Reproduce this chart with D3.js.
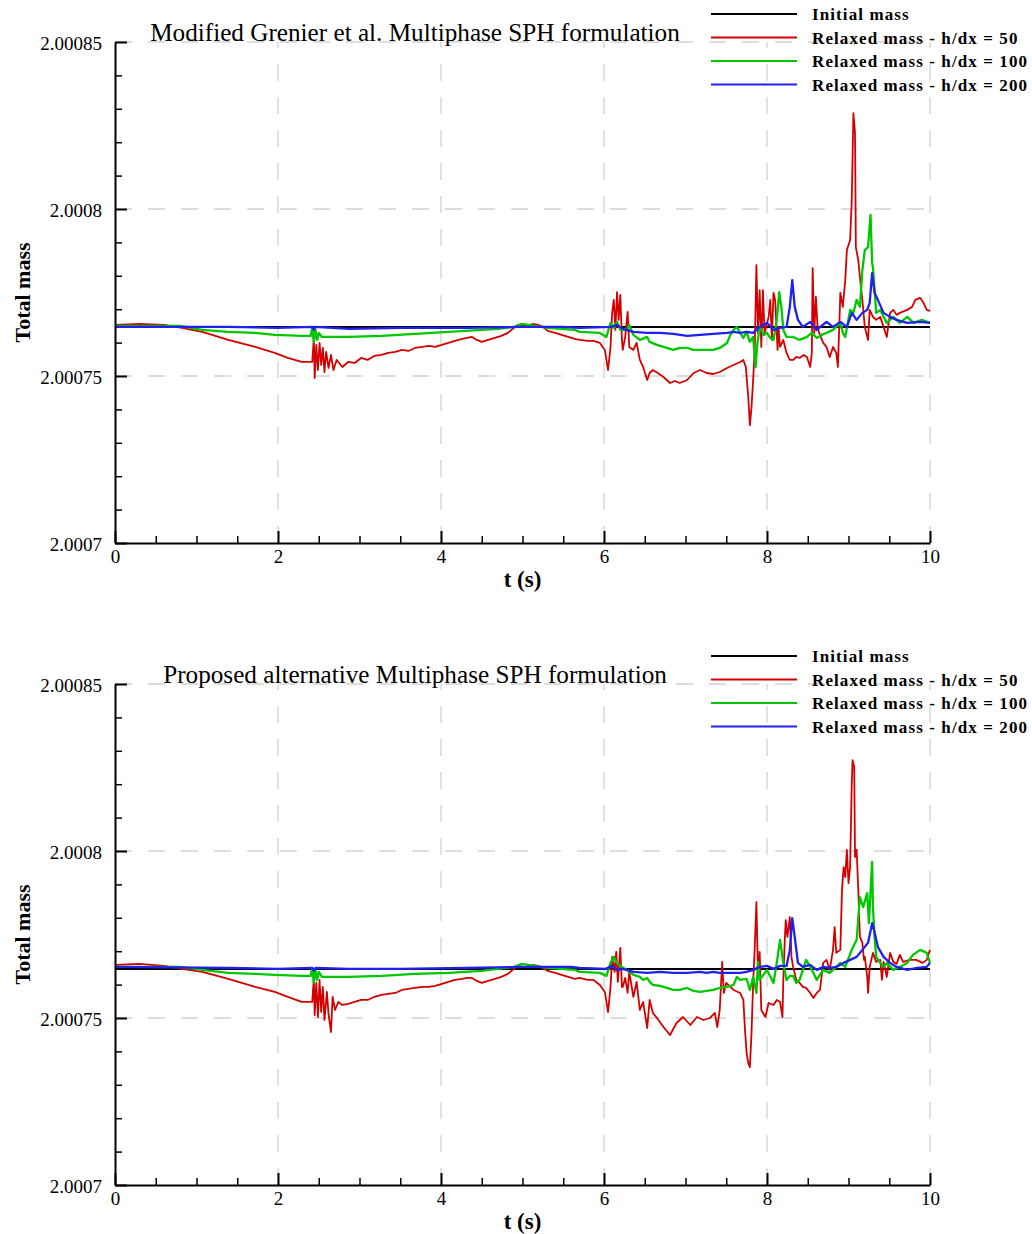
<!DOCTYPE html>
<html>
<head>
<meta charset="utf-8">
<script src="https://cdn.jsdelivr.net/npm/d3@7"></script>
<style>
  body { margin: 0; background: #ffffff; }
  svg { display: block; }
</style>
</head>
<body>
<svg id="chart" width="1032" height="1234"></svg>
<script>
// ---- Data --------------------------------------------------------------
const initialMass = 2.0007647;

const timeTicks = [0, 2, 4, 6, 8, 10];
const timeTickLabels = ["0", "2", "4", "6", "8", "10"];
const massTicks = [2.0007, 2.00075, 2.0008, 2.00085];
const massTickLabels = ["2.0007", "2.00075", "2.0008", "2.00085"];

const legendLabels = [
  "Initial mass",
  "Relaxed mass - h/dx = 50",
  "Relaxed mass - h/dx = 100",
  "Relaxed mass - h/dx = 200"
];
const panelTitles = [
  "Modified Grenier et al. Multiphase SPH formulation",
  "Proposed alternative Multiphase SPH formulation"
];

// [t (s), total mass] — modified Grenier formulation
const grenier50 = [
  [0, 2.0007653], [0.3, 2.0007656], [0.6, 2.0007653], [0.82, 2.0007644], [1.07, 2.0007632],
  [1.39, 2.0007608], [1.72, 2.0007587], [1.96, 2.0007569], [2.12, 2.0007554], [2.29, 2.0007542],
  [2.42, 2.0007542], [2.44, 2.0007614], [2.45, 2.0007494], [2.47, 2.0007593], [2.49, 2.0007518],
  [2.51, 2.0007599], [2.53, 2.0007533], [2.55, 2.0007584], [2.57, 2.0007512], [2.59, 2.0007572],
  [2.62, 2.0007524], [2.65, 2.0007563], [2.68, 2.0007518], [2.72, 2.0007548], [2.79, 2.0007527],
  [2.86, 2.0007542], [2.94, 2.0007539], [3.02, 2.0007554], [3.10, 2.0007548], [3.18, 2.0007560],
  [3.27, 2.0007563], [3.35, 2.0007569], [3.44, 2.0007572], [3.52, 2.0007578], [3.60, 2.0007575],
  [3.68, 2.0007584], [3.77, 2.0007587], [3.85, 2.0007590], [3.93, 2.0007587], [4.01, 2.0007593],
  [4.09, 2.0007599], [4.17, 2.0007605], [4.26, 2.0007611], [4.32, 2.0007614], [4.38, 2.0007617],
  [4.44, 2.0007608], [4.50, 2.0007602], [4.58, 2.0007608], [4.66, 2.0007614], [4.74, 2.0007620],
  [4.82, 2.0007629], [4.88, 2.0007641], [4.94, 2.0007653], [5.00, 2.0007650], [5.07, 2.0007650],
  [5.13, 2.0007656], [5.19, 2.0007653], [5.25, 2.0007647], [5.31, 2.0007635], [5.40, 2.0007629],
  [5.48, 2.0007623], [5.56, 2.0007617], [5.64, 2.0007611], [5.70, 2.0007608], [5.80, 2.0007605],
  [5.87, 2.0007605], [5.95, 2.0007599], [6.01, 2.0007578], [6.05, 2.0007518], [6.08, 2.0007587],
  [6.10, 2.0007689], [6.12, 2.0007728], [6.14, 2.0007638], [6.16, 2.0007751], [6.18, 2.0007668],
  [6.20, 2.0007743], [6.22, 2.0007608], [6.23, 2.0007578], [6.26, 2.0007617], [6.29, 2.0007692],
  [6.31, 2.0007587], [6.36, 2.0007578], [6.40, 2.0007599], [6.44, 2.0007548], [6.48, 2.0007527],
  [6.53, 2.0007488], [6.56, 2.0007509], [6.60, 2.0007518], [6.66, 2.0007509], [6.73, 2.0007497],
  [6.81, 2.0007479], [6.87, 2.0007485], [6.93, 2.0007479], [7.02, 2.0007488], [7.10, 2.0007509],
  [7.18, 2.0007518], [7.26, 2.0007509], [7.34, 2.0007506], [7.42, 2.0007512], [7.51, 2.0007524],
  [7.59, 2.0007533], [7.67, 2.0007542], [7.71, 2.0007548], [7.74, 2.0007527], [7.77, 2.0007437],
  [7.79, 2.0007353], [7.81, 2.0007407], [7.83, 2.0007488], [7.85, 2.0007587], [7.87, 2.0007832],
  [7.89, 2.0007629], [7.91, 2.0007757], [7.93, 2.0007587], [7.95, 2.0007757], [7.97, 2.0007629],
  [8.02, 2.0007677], [8.04, 2.0007728], [8.06, 2.0007608], [8.08, 2.0007749], [8.10, 2.0007728],
  [8.13, 2.0007578], [8.14, 2.0007647], [8.16, 2.0007587], [8.20, 2.0007608], [8.24, 2.0007569],
  [8.28, 2.0007548], [8.32, 2.0007548], [8.36, 2.0007557], [8.40, 2.0007554], [8.45, 2.0007563],
  [8.49, 2.0007557], [8.53, 2.0007527], [8.55, 2.0007569], [8.56, 2.0007823], [8.58, 2.0007629],
  [8.60, 2.0007737], [8.62, 2.0007647], [8.64, 2.0007629], [8.69, 2.0007599], [8.73, 2.0007587],
  [8.77, 2.0007557], [8.81, 2.0007587], [8.85, 2.0007569], [8.87, 2.0007527], [8.90, 2.0007749],
  [8.93, 2.0007707], [8.96, 2.0007787], [8.98, 2.0007877], [9.02, 2.0007907], [9.04, 2.0008027],
  [9.06, 2.0008287], [9.08, 2.0008228], [9.09, 2.0007886], [9.12, 2.0007847], [9.14, 2.0007796],
  [9.17, 2.0007728], [9.20, 2.0007647], [9.24, 2.0007608], [9.26, 2.0007698], [9.30, 2.0007677],
  [9.34, 2.0007668], [9.39, 2.0007677], [9.43, 2.0007647], [9.47, 2.0007617], [9.51, 2.0007689],
  [9.55, 2.0007698], [9.59, 2.0007683], [9.63, 2.0007689], [9.72, 2.0007698], [9.78, 2.0007707],
  [9.82, 2.0007728], [9.88, 2.0007734], [9.92, 2.0007719], [9.96, 2.0007698], [10.0, 2.0007695]
];

const grenier100 = [
  [0, 2.0007650], [0.8, 2.0007650], [1.07, 2.0007638], [1.39, 2.0007632], [1.72, 2.0007629],
  [1.96, 2.0007623], [2.29, 2.0007620], [2.40, 2.0007620], [2.42, 2.0007644], [2.44, 2.0007602],
  [2.46, 2.0007638], [2.48, 2.0007608], [2.50, 2.0007629], [2.54, 2.0007617], [2.87, 2.0007617],
  [3.27, 2.0007620], [3.68, 2.0007626], [4.09, 2.0007632], [4.50, 2.0007638], [4.70, 2.0007641],
  [4.90, 2.0007647], [4.99, 2.0007656], [5.07, 2.0007653], [5.15, 2.0007650], [5.31, 2.0007644],
  [5.64, 2.0007638], [5.70, 2.0007632], [5.95, 2.0007629], [6.03, 2.0007617], [6.08, 2.0007659],
  [6.12, 2.0007644], [6.16, 2.0007662], [6.20, 2.0007638], [6.28, 2.0007638], [6.31, 2.0007653],
  [6.36, 2.0007623], [6.44, 2.0007608], [6.53, 2.0007617], [6.56, 2.0007602], [6.65, 2.0007593],
  [6.73, 2.0007587], [6.85, 2.0007578], [6.93, 2.0007584], [7.02, 2.0007584], [7.10, 2.0007578],
  [7.18, 2.0007578], [7.34, 2.0007578], [7.42, 2.0007584], [7.51, 2.0007599], [7.55, 2.0007623],
  [7.59, 2.0007638], [7.63, 2.0007647], [7.67, 2.0007629], [7.71, 2.0007614], [7.75, 2.0007632],
  [7.79, 2.0007602], [7.83, 2.0007617], [7.86, 2.0007527], [7.88, 2.0007593], [7.91, 2.0007647],
  [7.96, 2.0007623], [8.00, 2.0007629], [8.04, 2.0007614], [8.08, 2.0007608], [8.12, 2.0007668],
  [8.15, 2.0007751], [8.18, 2.0007698], [8.20, 2.0007638], [8.24, 2.0007617], [8.32, 2.0007617],
  [8.40, 2.0007608], [8.49, 2.0007617], [8.55, 2.0007629], [8.61, 2.0007614], [8.67, 2.0007623],
  [8.73, 2.0007629], [8.81, 2.0007638], [8.90, 2.0007659], [8.93, 2.0007629], [8.96, 2.0007617],
  [9.02, 2.0007698], [9.06, 2.0007689], [9.10, 2.0007728], [9.14, 2.0007707], [9.17, 2.0007817],
  [9.20, 2.0007877], [9.24, 2.0007886], [9.27, 2.0007982], [9.29, 2.0007838], [9.30, 2.0007826],
  [9.34, 2.0007689], [9.39, 2.0007698], [9.43, 2.0007677], [9.47, 2.0007659], [9.55, 2.0007677],
  [9.63, 2.0007659], [9.72, 2.0007677], [9.80, 2.0007659], [9.90, 2.0007668], [10.0, 2.0007659]
];

const grenier200 = [
  [0, 2.0007647], [1.40, 2.0007647], [2.00, 2.0007644], [2.42, 2.0007647], [2.44, 2.0007638],
  [2.46, 2.0007647], [2.87, 2.0007641], [3.50, 2.0007644], [4.30, 2.0007644], [5.00, 2.0007647],
  [5.50, 2.0007647], [5.70, 2.0007644], [6.08, 2.0007647], [6.16, 2.0007653], [6.23, 2.0007641],
  [6.36, 2.0007632], [6.53, 2.0007629], [6.69, 2.0007629], [6.85, 2.0007626], [7.02, 2.0007620],
  [7.18, 2.0007623], [7.34, 2.0007626], [7.51, 2.0007629], [7.59, 2.0007632], [7.67, 2.0007629],
  [7.75, 2.0007632], [7.83, 2.0007629], [7.91, 2.0007647], [8.00, 2.0007659], [8.08, 2.0007638],
  [8.16, 2.0007644], [8.24, 2.0007647], [8.28, 2.0007707], [8.31, 2.0007787], [8.34, 2.0007707],
  [8.38, 2.0007668], [8.44, 2.0007647], [8.53, 2.0007662], [8.61, 2.0007638], [8.73, 2.0007662],
  [8.81, 2.0007647], [8.90, 2.0007662], [8.98, 2.0007647], [9.04, 2.0007689], [9.10, 2.0007668],
  [9.17, 2.0007689], [9.23, 2.0007698], [9.26, 2.0007719], [9.29, 2.0007808], [9.32, 2.0007749],
  [9.36, 2.0007728], [9.43, 2.0007689], [9.51, 2.0007677], [9.59, 2.0007668], [9.72, 2.0007659],
  [9.88, 2.0007662], [10.0, 2.0007659]
];

// [t (s), total mass] — proposed alternative formulation
const proposed50 = [
  [0, 2.0007659], [0.3, 2.0007662], [0.6, 2.0007656], [0.82, 2.0007647], [1.07, 2.0007638],
  [1.39, 2.0007617], [1.72, 2.0007593], [1.96, 2.0007578], [2.12, 2.0007563], [2.29, 2.0007548],
  [2.42, 2.0007548], [2.44, 2.0007620], [2.45, 2.0007509], [2.47, 2.0007605], [2.49, 2.0007503],
  [2.51, 2.0007614], [2.53, 2.0007518], [2.55, 2.0007593], [2.57, 2.0007494], [2.60, 2.0007578],
  [2.62, 2.0007512], [2.65, 2.0007458], [2.67, 2.0007563], [2.70, 2.0007524], [2.74, 2.0007548],
  [2.79, 2.0007539], [2.86, 2.0007542], [2.94, 2.0007548], [3.02, 2.0007554], [3.10, 2.0007554],
  [3.18, 2.0007563], [3.27, 2.0007569], [3.35, 2.0007572], [3.44, 2.0007575], [3.52, 2.0007584],
  [3.60, 2.0007587], [3.68, 2.0007590], [3.77, 2.0007593], [3.85, 2.0007593], [3.93, 2.0007596],
  [4.01, 2.0007602], [4.09, 2.0007608], [4.17, 2.0007614], [4.26, 2.0007617], [4.32, 2.0007620],
  [4.38, 2.0007620], [4.44, 2.0007611], [4.50, 2.0007605], [4.58, 2.0007611], [4.66, 2.0007617],
  [4.74, 2.0007623], [4.82, 2.0007632], [4.88, 2.0007644], [4.94, 2.0007656], [5.00, 2.0007653],
  [5.07, 2.0007653], [5.13, 2.0007659], [5.19, 2.0007656], [5.25, 2.0007650], [5.31, 2.0007641],
  [5.40, 2.0007635], [5.48, 2.0007629], [5.56, 2.0007623], [5.64, 2.0007617], [5.70, 2.0007620],
  [5.80, 2.0007614], [5.87, 2.0007614], [5.95, 2.0007599], [6.01, 2.0007578], [6.05, 2.0007518],
  [6.08, 2.0007593], [6.10, 2.0007683], [6.13, 2.0007638], [6.15, 2.0007698], [6.17, 2.0007608],
  [6.20, 2.0007710], [6.22, 2.0007593], [6.23, 2.0007593], [6.26, 2.0007620], [6.29, 2.0007575],
  [6.31, 2.0007638], [6.36, 2.0007563], [6.40, 2.0007608], [6.44, 2.0007524], [6.48, 2.0007548],
  [6.53, 2.0007470], [6.56, 2.0007554], [6.60, 2.0007515], [6.65, 2.0007500], [6.73, 2.0007473],
  [6.81, 2.0007449], [6.89, 2.0007485], [6.97, 2.0007503], [7.06, 2.0007479], [7.14, 2.0007503],
  [7.22, 2.0007494], [7.30, 2.0007500], [7.36, 2.0007515], [7.39, 2.0007473], [7.42, 2.0007524],
  [7.45, 2.0007668], [7.47, 2.0007575], [7.50, 2.0007605], [7.59, 2.0007584], [7.67, 2.0007575],
  [7.71, 2.0007554], [7.73, 2.0007464], [7.75, 2.0007395], [7.77, 2.0007365], [7.79, 2.0007353],
  [7.81, 2.0007455], [7.83, 2.0007605], [7.85, 2.0007713], [7.87, 2.0007847], [7.89, 2.0007623],
  [7.91, 2.0007698], [7.93, 2.0007524], [7.98, 2.0007503], [8.02, 2.0007545], [8.08, 2.0007539],
  [8.12, 2.0007554], [8.16, 2.0007548], [8.19, 2.0007503], [8.20, 2.0007614], [8.22, 2.0007743],
  [8.23, 2.0007793], [8.25, 2.0007743], [8.28, 2.0007802], [8.30, 2.0007683], [8.32, 2.0007653],
  [8.36, 2.0007614], [8.40, 2.0007605], [8.44, 2.0007593], [8.48, 2.0007590], [8.53, 2.0007575],
  [8.57, 2.0007560], [8.61, 2.0007575], [8.65, 2.0007584], [8.69, 2.0007665], [8.73, 2.0007674],
  [8.77, 2.0007644], [8.81, 2.0007704], [8.83, 2.0007772], [8.85, 2.0007695], [8.90, 2.0007704],
  [8.92, 2.0007883], [8.94, 2.0007952], [8.96, 2.0007922], [8.98, 2.0008003], [9.00, 2.0007904],
  [9.02, 2.0007952], [9.04, 2.0008204], [9.05, 2.0008272], [9.07, 2.0008252], [9.08, 2.0007982],
  [9.10, 2.0008003], [9.12, 2.0007883], [9.14, 2.0007743], [9.17, 2.0007725], [9.19, 2.0007674],
  [9.20, 2.0007683], [9.23, 2.0007623], [9.24, 2.0007575], [9.26, 2.0007653], [9.30, 2.0007695],
  [9.34, 2.0007668], [9.39, 2.0007674], [9.41, 2.0007614], [9.43, 2.0007668], [9.47, 2.0007623],
  [9.51, 2.0007695], [9.55, 2.0007668], [9.59, 2.0007662], [9.63, 2.0007689], [9.67, 2.0007668],
  [9.75, 2.0007674], [9.83, 2.0007674], [9.91, 2.0007665], [9.96, 2.0007674], [10.0, 2.0007704]
];

const proposed100 = [
  [0, 2.0007653], [0.8, 2.0007653], [1.07, 2.0007644], [1.39, 2.0007635], [1.72, 2.0007632],
  [1.96, 2.0007629], [2.29, 2.0007626], [2.40, 2.0007626], [2.42, 2.0007650], [2.44, 2.0007605],
  [2.46, 2.0007644], [2.48, 2.0007614], [2.50, 2.0007638], [2.54, 2.0007623], [2.87, 2.0007623],
  [3.27, 2.0007626], [3.68, 2.0007632], [4.09, 2.0007635], [4.50, 2.0007641], [4.90, 2.0007653],
  [4.99, 2.0007662], [5.07, 2.0007659], [5.15, 2.0007656], [5.31, 2.0007650], [5.64, 2.0007644],
  [5.70, 2.0007638], [5.95, 2.0007635], [6.03, 2.0007626], [6.08, 2.0007665], [6.12, 2.0007683],
  [6.16, 2.0007665], [6.20, 2.0007656], [6.28, 2.0007644], [6.36, 2.0007629], [6.44, 2.0007623],
  [6.48, 2.0007614], [6.53, 2.0007620], [6.56, 2.0007608], [6.60, 2.0007599], [6.69, 2.0007596],
  [6.77, 2.0007590], [6.85, 2.0007584], [6.93, 2.0007584], [7.02, 2.0007590], [7.10, 2.0007581],
  [7.18, 2.0007578], [7.26, 2.0007581], [7.34, 2.0007584], [7.42, 2.0007590], [7.51, 2.0007593],
  [7.59, 2.0007599], [7.63, 2.0007623], [7.67, 2.0007614], [7.75, 2.0007617], [7.79, 2.0007584],
  [7.83, 2.0007623], [7.87, 2.0007575], [7.89, 2.0007668], [7.91, 2.0007614], [8.00, 2.0007644],
  [8.08, 2.0007605], [8.12, 2.0007665], [8.16, 2.0007734], [8.20, 2.0007665], [8.24, 2.0007614],
  [8.28, 2.0007626], [8.32, 2.0007626], [8.36, 2.0007605], [8.40, 2.0007614], [8.44, 2.0007644],
  [8.48, 2.0007674], [8.53, 2.0007653], [8.57, 2.0007635], [8.61, 2.0007614], [8.69, 2.0007644],
  [8.77, 2.0007635], [8.85, 2.0007653], [8.90, 2.0007665], [8.96, 2.0007653], [9.04, 2.0007704],
  [9.10, 2.0007734], [9.14, 2.0007862], [9.18, 2.0007832], [9.23, 2.0007874], [9.25, 2.0007784],
  [9.29, 2.0007967], [9.30, 2.0007832], [9.32, 2.0007743], [9.34, 2.0007683], [9.39, 2.0007665],
  [9.43, 2.0007653], [9.47, 2.0007665], [9.55, 2.0007644], [9.63, 2.0007653], [9.72, 2.0007665],
  [9.79, 2.0007689], [9.88, 2.0007704], [9.96, 2.0007695], [10.0, 2.0007665]
];

const proposed200 = [
  [0, 2.0007653], [1.40, 2.0007650], [2.00, 2.0007647], [2.42, 2.0007650], [2.44, 2.0007641],
  [2.46, 2.0007650], [2.87, 2.0007647], [3.50, 2.0007647], [4.30, 2.0007650], [5.00, 2.0007653],
  [5.60, 2.0007653], [5.70, 2.0007650], [6.02, 2.0007647], [6.10, 2.0007656], [6.16, 2.0007644],
  [6.23, 2.0007647], [6.36, 2.0007638], [6.53, 2.0007635], [6.69, 2.0007638], [6.85, 2.0007635],
  [7.02, 2.0007635], [7.18, 2.0007638], [7.26, 2.0007635], [7.34, 2.0007638], [7.42, 2.0007635],
  [7.51, 2.0007635], [7.67, 2.0007635], [7.75, 2.0007638], [7.83, 2.0007644], [7.91, 2.0007653],
  [8.00, 2.0007656], [8.08, 2.0007647], [8.16, 2.0007656], [8.24, 2.0007656], [8.28, 2.0007704],
  [8.31, 2.0007799], [8.34, 2.0007743], [8.38, 2.0007665], [8.44, 2.0007653], [8.53, 2.0007659],
  [8.61, 2.0007644], [8.69, 2.0007653], [8.77, 2.0007650], [8.85, 2.0007653], [8.94, 2.0007665],
  [9.02, 2.0007674], [9.10, 2.0007683], [9.17, 2.0007704], [9.24, 2.0007725], [9.29, 2.0007784],
  [9.32, 2.0007757], [9.36, 2.0007713], [9.43, 2.0007683], [9.51, 2.0007665], [9.59, 2.0007653],
  [9.72, 2.0007644], [9.84, 2.0007650], [9.96, 2.0007653], [10.0, 2.0007665]
];

// ---- Drawing -----------------------------------------------------------
const serif = "'Liberation Serif', 'Times New Roman', Times, serif";
const seriesColors = ["#000000", "#d40000", "#00c800", "#2020f0"];
const seriesWidths = [2, 1.8, 2.3, 2.3];

const plotLeft = 115, plotRight = 930, plotHeight = 501;

const panels = [
  { title: panelTitles[0], top: 42,  series: [grenier50, grenier100, grenier200] },
  { title: panelTitles[1], top: 684, series: [proposed50, proposed100, proposed200] }
];

const svg = d3.select("#chart");

panels.forEach(panel => {
  const g = svg.append("g").attr("transform", `translate(0,${panel.top})`);

  const x = d3.scaleLinear().domain([0, 10]).range([plotLeft, plotRight]);
  const y = d3.scaleLinear().domain([2.0007, 2.00085]).range([plotHeight, 0]);

  // dashed grid
  const grid = g.append("g")
    .attr("stroke", "#d2d2d2")
    .attr("stroke-width", 1.3)
    .attr("stroke-dasharray", "17,16")
    .attr("fill", "none");
  grid.selectAll("line.h").data(massTicks.slice(1)).join("line")
    .attr("class", "h")
    .attr("x1", plotLeft).attr("x2", plotRight)
    .attr("y1", d => y(d)).attr("y2", d => y(d));
  grid.selectAll("line.v").data(timeTicks.slice(1)).join("line")
    .attr("class", "v")
    .attr("x1", d => x(d)).attr("x2", d => x(d))
    .attr("y1", plotHeight).attr("y2", 0);

  // mass curves
  const line = d3.line().x(d => x(d[0])).y(d => y(d[1]));
  const curves = [[[0, initialMass], [10, initialMass]], ...panel.series];
  g.append("g").selectAll("path").data(curves).join("path")
    .attr("d", line)
    .attr("fill", "none")
    .attr("stroke", (d, i) => seriesColors[i])
    .attr("stroke-width", (d, i) => seriesWidths[i])
    .attr("stroke-linejoin", "round");

  // axes: minor ticks
  const minorMass = y.ticks(15).filter(v => !massTicks.some(m => Math.abs(m - v) < 1e-9));
  const minorTime = x.ticks(20).filter(v => v % 2 !== 0);

  g.append("g")
    .attr("transform", `translate(${plotLeft},0)`)
    .call(d3.axisLeft(y).tickValues(minorMass).tickSize(-7).tickSizeOuter(0).tickFormat(""))
    .call(a => a.select(".domain").remove())
    .call(a => a.selectAll(".tick line").attr("stroke-width", 1.5));

  g.append("g")
    .attr("transform", `translate(0,${plotHeight})`)
    .call(d3.axisBottom(x).tickValues(minorTime).tickSize(-7).tickSizeOuter(0).tickFormat(""))
    .call(a => a.select(".domain").remove())
    .call(a => a.selectAll(".tick line").attr("stroke-width", 1.5));

  // axes: major ticks and labels
  g.append("g")
    .attr("transform", `translate(${plotLeft},0)`)
    .call(d3.axisLeft(y).tickValues(massTicks).tickSize(-12).tickSizeOuter(0)
      .tickPadding(13).tickFormat((d, i) => massTickLabels[i]))
    .call(a => a.select(".domain").attr("stroke-width", 2))
    .call(a => a.selectAll(".tick line").attr("stroke-width", 2))
    .call(a => a.selectAll(".tick text")
      .attr("font-family", serif).attr("font-size", 19).attr("fill", "#000").attr("dy", "0.42em"));

  g.append("g")
    .attr("transform", `translate(0,${plotHeight})`)
    .call(d3.axisBottom(x).tickValues(timeTicks).tickSize(-12).tickSizeOuter(0)
      .tickPadding(7).tickFormat((d, i) => timeTickLabels[i]))
    .call(a => a.select(".domain").attr("stroke-width", 2))
    .call(a => a.selectAll(".tick line").attr("stroke-width", 2))
    .call(a => a.selectAll(".tick text")
      .attr("font-family", serif).attr("font-size", 19).attr("fill", "#000"));

  // axis titles
  g.append("text")
    .attr("x", (plotLeft + plotRight) / 2).attr("y", plotHeight + 44)
    .attr("text-anchor", "middle")
    .attr("font-family", serif).attr("font-size", 23).attr("font-weight", "bold")
    .text("t (s)");

  g.append("text")
    .attr("transform", `translate(30,${plotHeight / 2}) rotate(-90)`)
    .attr("text-anchor", "middle")
    .attr("font-family", serif).attr("font-size", 22).attr("font-weight", "bold")
    .text("Total mass");

  // panel title
  g.append("text")
    .attr("x", 415).attr("y", -1)
    .attr("text-anchor", "middle")
    .attr("font-family", serif).attr("font-size", 25.2)
    .text(panel.title);

  // legend
  const legend = g.append("g").attr("transform", "translate(0,-28)");
  const items = legend.selectAll("g").data(legendLabels).join("g")
    .attr("transform", (d, i) => `translate(0,${i * 23.5})`);
  items.append("line")
    .attr("x1", 711).attr("x2", 797).attr("y1", 0).attr("y2", 0)
    .attr("stroke", (d, i) => seriesColors[i])
    .attr("stroke-width", 2);
  items.append("text")
    .attr("x", 812).attr("y", 6)
    .attr("font-family", serif).attr("font-size", 17).attr("font-weight", "bold")
    .attr("letter-spacing", 1.1)
    .text(d => d);
});
</script>
</body>
</html>
